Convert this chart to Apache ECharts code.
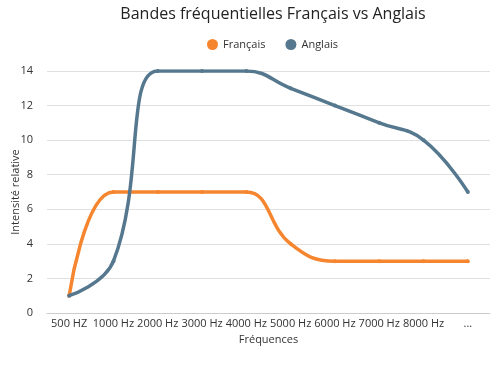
<!DOCTYPE html>
<html><head><meta charset="utf-8">
<script src="https://cdn.jsdelivr.net/npm/echarts@6/dist/echarts.min.js"></script>
<style>html,body{margin:0;padding:0;background:#fff}#c{width:500px;height:375px}</style>
</head><body><div id="c"></div>
<script>
var categories = ['500 HZ','1000 Hz','2000 Hz','3000 Hz','4000 Hz','5000 Hz','6000 Hz','7000 Hz','8000 Hz','...'];
var francais = [1, 7, 7, 7, 7, 4, 3, 3, 3, 3];
var anglais = [1, 3, 14, 14, 14, 13, 12, 11, 10, 7];
var chart = echarts.init(document.getElementById('c'), null, {renderer:'canvas'});
var font = 'Open Sans';
chart.setOption({
  animation:false,
  color:['#F5862F','#56788F'],
  title:{text:'Bandes fréquentielles Français vs Anglais', left:268, top:1, textAlign:'center',
    textStyle:{fontFamily:font, fontSize:16, fontWeight:'normal', color:'#222'}},
  legend:{top:34, left:202, itemGap:20, icon:'circle', itemWidth:11, itemHeight:11,
    textStyle:{fontFamily:font, fontSize:11, color:'#333'}, data:['Français','Anglais']},
  grid:{left:47, right:10, top:71, bottom:62, containLabel:false, outerBoundsMode:'none'},
  xAxis:{type:'category', data:categories, boundaryGap:true,
    name:'Fréquences', nameLocation:'middle', nameGap:21, nameMoveOverlap:false,
    nameTextStyle:{fontFamily:font, fontSize:11, color:'#333'},
    axisLine:{lineStyle:{color:'#ccc'}}, axisTick:{show:false},
    axisLabel:{fontFamily:font, fontSize:11, color:'#333', interval:0, margin:5}},
  yAxis:{type:'value', min:0, max:14, interval:2,
    name:'Intensité relative', nameLocation:'middle', nameGap:26, nameMoveOverlap:false,
    nameTextStyle:{fontFamily:font, fontSize:11, color:'#333'},
    axisLine:{show:false}, axisTick:{show:false},
    splitLine:{lineStyle:{color:'#e0e0e0'}},
    axisLabel:{fontFamily:font, fontSize:11, color:'#333', margin:14}},
  series:[
    {name:'Français', type:'line', data:francais, smooth:0.45, symbol:'circle', symbolSize:4,
      lineStyle:{width:3.5}, z:2},
    {name:'Anglais', type:'line', data:anglais, smooth:0.45, symbol:'circle', symbolSize:4,
      lineStyle:{width:3.5}, z:3}
  ]
});
</script></body></html>
